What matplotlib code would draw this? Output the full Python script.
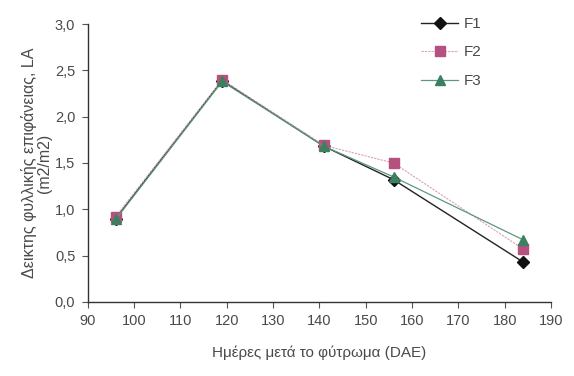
import matplotlib.pyplot as plt
from matplotlib.ticker import FuncFormatter

plt.rcParams['font.family'] = ['Liberation Sans', 'DejaVu Sans']

days = [96, 119, 141, 156, 184]
f1 = [0.90, 2.39, 1.68, 1.32, 0.43]
f2 = [0.92, 2.40, 1.69, 1.50, 0.57]
f3 = [0.89, 2.38, 1.68, 1.35, 0.67]

txt = '#4a4a4a'

fig = plt.figure(figsize=(5.74, 3.76), dpi=100)
ax = fig.add_axes([0.153, 0.197, 0.807, 0.739])

ax.plot(days, f1, color='#222222', lw=1.0, marker='D', ms=6, mfc='#111111', mec='#111111', label='F1')
ax.plot(days, f2, color='#d9a0bb', lw=0.8, ls=(0, (2, 1)), marker='s', ms=7, mfc='#b5507f', mec='#b5507f', label='F2')
ax.plot(days, f3, color='#5a9a7a', lw=0.9, marker='^', ms=7, mfc='#3c8060', mec='#3c8060', label='F3')

ax.set_xlim(90, 190)
ax.set_ylim(0, 3.0)
ax.set_xticks(range(90, 191, 10))
ax.set_yticks([0, 0.5, 1.0, 1.5, 2.0, 2.5, 3.0])
ax.yaxis.set_major_formatter(FuncFormatter(lambda v, p: f'{v:.1f}'.replace('.', ',')))

for s in ['top', 'right']:
    ax.spines[s].set_visible(False)
for s in ['left', 'bottom']:
    ax.spines[s].set_color('#333333')
    ax.spines[s].set_linewidth(1.0)
ax.tick_params(direction='out', length=4, width=0.8, color='#555555', labelsize=10.5, labelcolor=txt, pad=5)

ax.set_xlabel('Ημέρες μετά το φύτρωμα (DAE)', fontsize=11, color=txt, labelpad=12)
ax.set_ylabel('Δεικτης φυλλικής επιφάνειας, LA\n(m2/m2)', fontsize=11.5, color=txt, labelpad=2, linespacing=1.0)

leg = ax.legend(loc='upper left', bbox_to_anchor=(0.69, 1.075), frameon=False, fontsize=11,
                handlelength=2.4, labelspacing=0.95, handletextpad=0.4)
for t in leg.get_texts():
    t.set_color(txt)

fig.savefig('out.png', dpi=100)
